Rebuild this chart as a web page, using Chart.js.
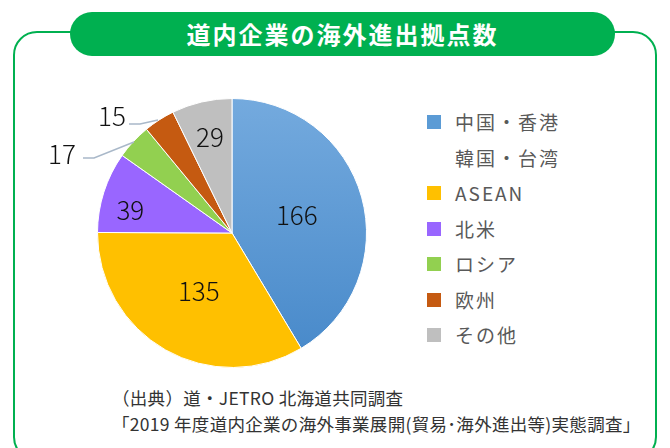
<!DOCTYPE html>
<html>
<head>
<meta charset="utf-8">
<script src="https://cdn.jsdelivr.net/npm/chart.js@4"></script>
<style>
  html, body { margin: 0; padding: 0; background: #fff; }
  body { width: 670px; height: 448px; position: relative; overflow: hidden;
         font-family: "Noto Sans CJK JP", "Noto Sans", sans-serif; }
  #frame { position: absolute; left: 13px; top: 31px; width: 644px; height: 430px;
           border: 2.5px solid #00b050; border-radius: 24px; box-sizing: border-box; }
  #title { position: absolute; left: 70px; top: 12px; width: 545px; height: 44px;
           background: #00b050; border-radius: 22px; color: #fff; font-weight: bold;
           font-size: 24px; line-height: 44px; text-align: center; letter-spacing: 2px; }
  #legend { position: absolute; left: 427px; top: 104px; color: #595959; font-size: 19px; letter-spacing: 2px; }
  .item { position: relative; padding-left: 28px; line-height: 35.5px; white-space: nowrap; }
  .box { position: absolute; left: 0; top: 11px; width: 14px; height: 14px; }
  #source { position: absolute; left: 112px; top: 385px; color: #333; font-size: 17.5px; line-height: 26px; letter-spacing: 0.3px; }
  canvas { position: absolute; left: 0; top: 0; }
</style>
</head>
<body>
<div id="frame"></div>
<div id="title">道内企業の海外進出拠点数</div>
<div id="legend"></div>
<div id="source">（出典）道・JETRO 北海道共同調査<br>「2019 年度道内企業の海外事業展開(貿易･海外進出等)実態調査」</div>
<canvas id="pieChart" width="670" height="448"></canvas>
<script>
// データ
const regions = [['中国・香港', '韓国・台湾'], 'ASEAN', '北米', 'ロシア', '欧州', 'その他'];
const counts = [166, 135, 39, 17, 15, 29];
const colors = ['#5b9bd5', '#ffc000', '#9966ff', '#92d050', '#c55a11', '#bfbfbf'];

// 凡例 (HTML)
const legendEl = document.getElementById('legend');
regions.forEach((r, i) => {
    const div = document.createElement('div');
    div.className = 'item';
    div.innerHTML = '<span class="box" style="background:' + colors[i] + '"></span>' +
        (Array.isArray(r) ? r.join('<br>') : r);
    legendEl.appendChild(div);
});

// ラベル位置: [半径の割合, スライス内の角度の割合], 外側ラベルは引き出し線
const labelPos = [[0.5, 0.5], [0.5, 0.5], [0.775, 0.36], null, null, [0.73, 0.5]];
const outside = {
    3: { text: [62, 154], line: [[83, 158], [94, 158], [134, 142]] },
    4: { text: [112, 116], line: [[129, 124], [140, 124], [158, 120]] }
};

const labelPlugin = {
    id: 'labels',
    afterDatasetsDraw(chart) {
        const ctx = chart.ctx;
        const meta = chart.getDatasetMeta(0);
        ctx.save();
        ctx.font = '300 26px "Noto Sans CJK JP"';
        ctx.fillStyle = '#111';
        ctx.textAlign = 'center';
        ctx.textBaseline = 'middle';
        meta.data.forEach((arc, i) => {
            const v = chart.data.datasets[0].data[i];
            if (labelPos[i]) {
                const [rf, af] = labelPos[i];
                const a = arc.startAngle + (arc.endAngle - arc.startAngle) * af;
                const r = arc.outerRadius * rf;
                ctx.fillText(v, arc.x + Math.cos(a) * r, arc.y + Math.sin(a) * r);
            } else {
                const o = outside[i];
                ctx.strokeStyle = '#a9b8c9';
                ctx.lineWidth = 1.5;
                ctx.beginPath();
                o.line.forEach((p, k) => k ? ctx.lineTo(p[0], p[1]) : ctx.moveTo(p[0], p[1]));
                ctx.stroke();
                ctx.fillText(v, o.text[0], o.text[1]);
            }
        });
        ctx.restore();
    }
};

const pieConfig = {
    type: 'pie',
    data: {
        labels: regions,
        datasets: [{
            data: counts,
            backgroundColor: (c) => {
                if (c.dataIndex !== 0) return colors[c.dataIndex];
                const area = c.chart.chartArea;
                if (!area) return colors[0];
                const g = c.chart.ctx.createLinearGradient(0, area.top, 0, area.bottom);
                g.addColorStop(0, '#74aade');
                g.addColorStop(1, '#4688c9');
                return g;
            },
            borderColor: '#ffffff',
            borderWidth: 1
        }]
    },
    options: {
        responsive: false,
        animation: false,
        layout: { padding: { left: 97, right: 303, top: 98, bottom: 80 } },
        plugins: { legend: { display: false }, tooltip: { enabled: false } }
    },
    plugins: [labelPlugin]
};

var pieChart = new Chart(document.getElementById('pieChart'), pieConfig);
</script>
</body>
</html>
